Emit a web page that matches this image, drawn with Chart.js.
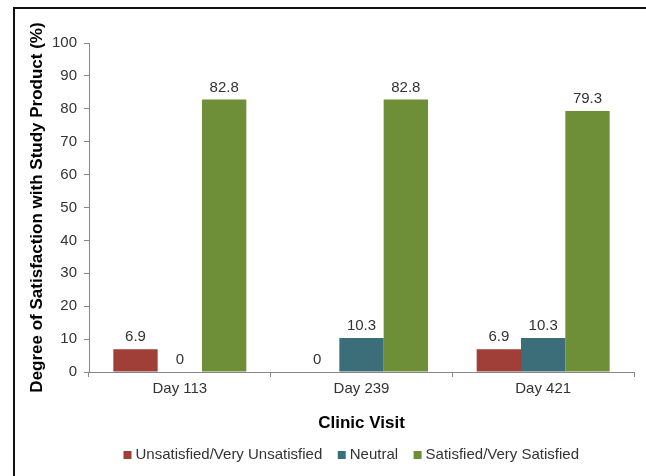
<!DOCTYPE html>
<html>
<head>
<meta charset="utf-8">
<script src="https://cdn.jsdelivr.net/npm/chart.js@4/dist/chart.umd.min.js"></script>
<style>
  html, body { margin: 0; padding: 0; background: #fff; overflow: hidden; }
  #wrap { position: relative; width: 646px; height: 476px; overflow: hidden; }
  #frame {
    position: absolute; left: 13px; top: 7px; width: 700px; height: 520px;
    border-top: 2px solid #111; border-left: 2px solid #111;
  }
  #chart { position: absolute; left: 0; top: 0; }
</style>
</head>
<body>
<div id="wrap">
  <div id="frame"></div>
  <canvas id="chart" width="646" height="476"></canvas>
</div>
<script>
// Satisfaction survey results by clinic visit (percent of subjects)
const categories = ['Day 113', 'Day 239', 'Day 421'];
const seriesNames = ['Unsatisfied/Very Unsatisfied', 'Neutral', 'Satisfied/Very Satisfied'];
const unsatisfied = [6.9, 0, 6.9];
const neutral = [0, 10.3, 10.3];
const satisfied = [82.8, 82.8, 79.3];
const yTicks = [0, 10, 20, 30, 40, 50, 60, 70, 80, 90, 100];

const FONT = '"Liberation Sans", Arial, Helvetica, sans-serif';
const AXIS_GREY = '#868686';

// Writes each bar's value just above it
const valueLabels = {
  id: 'valueLabels',
  afterDatasetsDraw(chart) {
    const ctx = chart.ctx;
    ctx.save();
    ctx.font = '15px ' + FONT;
    ctx.fillStyle = '#333';
    ctx.textAlign = 'center';
    ctx.textBaseline = 'alphabetic';
    chart.data.datasets.forEach((ds, i) => {
      chart.getDatasetMeta(i).data.forEach((bar, j) => {
        ctx.fillText(String(ds.data[j]), bar.x, bar.y - 8);
      });
    });
    ctx.restore();
  }
};

// Nudges the legend row to the right so it sits under the plot
const legendShift = {
  id: 'legendShift',
  afterLayout(chart) {
    const lg = chart.legend;
    if (lg) { lg.left += 26; lg.right += 26; }
  }
};

new Chart(document.getElementById('chart'), {
  type: 'bar',
  data: {
    labels: categories,
    datasets: [
      { label: seriesNames[0], data: unsatisfied, backgroundColor: '#A03F38' },
      { label: seriesNames[1], data: neutral, backgroundColor: '#3B6E78' },
      { label: seriesNames[2], data: satisfied, backgroundColor: '#6E8F38' }
    ]
  },
  options: {
    responsive: false,
    animation: false,
    devicePixelRatio: 1,
    layout: { padding: { left: 20, right: 12, top: 43, bottom: 3.5 } },
    datasets: { bar: { categoryPercentage: 0.732, barPercentage: 1.0 } },
    scales: {
      x: {
        grid: { offset: true, drawOnChartArea: false, drawTicks: true, tickLength: 5, color: AXIS_GREY },
        border: { color: AXIS_GREY, width: 1 },
        ticks: { color: '#333', padding: 3, font: { family: FONT, size: 15 } },
        title: {
          display: true, text: 'Clinic Visit', color: '#000',
          font: { family: FONT, size: 17, weight: 'bold' },
          padding: { top: 0, bottom: -4.7 }
        },
        afterFit(scale) { scale.height = 56.5; }
      },
      y: {
        min: 0, max: 100,
        afterBuildTicks(scale) { scale.ticks = yTicks.map(v => ({ value: v })); },
        grid: { drawOnChartArea: false, drawTicks: true, tickLength: 5, color: AXIS_GREY },
        border: { color: AXIS_GREY, width: 1 },
        ticks: { color: '#333', padding: 7, font: { family: FONT, size: 15 } },
        title: {
          display: true, text: 'Degree of Satisfaction with Study Product (%)', color: '#000',
          font: { family: FONT, size: 17, weight: 'bold' },
          padding: { top: 7.3, bottom: 0 }
        },
        afterFit(scale) { scale.width = 69; }
      }
    },
    plugins: {
      legend: {
        position: 'bottom',
        labels: {
          usePointStyle: true, pointStyle: 'rect',
          boxWidth: 1, boxHeight: 8, padding: 19,
          color: '#333', font: { family: FONT, size: 15 }
        }
      },
      tooltip: { enabled: false }
    }
  },
  plugins: [valueLabels, legendShift]
});
</script>
</body>
</html>
